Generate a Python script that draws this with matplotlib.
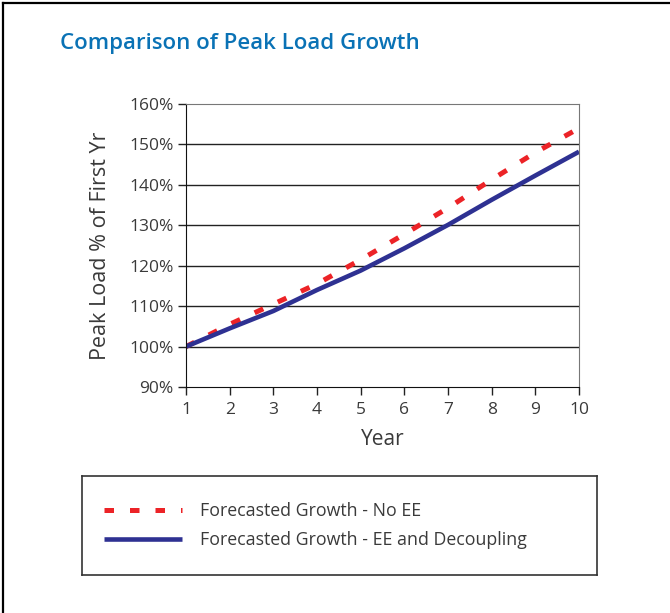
import matplotlib.pyplot as plt
from matplotlib.lines import Line2D

plt.rcParams['font.family'] = ['Open Sans', 'DejaVu Sans']

anios = [1, 2, 3, 4, 5, 6, 7, 8, 9, 10]
sin_ee = [100, 105.5, 110.5, 115.5, 121.5, 127.8, 134.3, 141.3, 148.0, 154.0]
con_ee = [100, 104.5, 108.8, 114.0, 118.8, 124.3, 130.1, 136.3, 142.3, 148.2]
etiquetas_y = ['90%', '100%', '110%', '120%', '130%', '140%', '150%', '160%']
valores_y = [90, 100, 110, 120, 130, 140, 150, 160]

rojo = '#ec2327'
azul = '#2e3192'
gris = '#3a3a3a'

fig = plt.figure(figsize=(6.7, 6.13), dpi=100)

# marco exterior (solo se ven arriba e izquierda)
fig.add_artist(Line2D([3 / 670, 1], [1 - 3 / 613, 1 - 3 / 613], color='black', lw=1.6))
fig.add_artist(Line2D([3 / 670, 3 / 670], [0, 1 - 3 / 613], color='black', lw=1.6))

fig.text(60 / 670, 1 - 43 / 613, 'Comparison of Peak Load Growth', color='#0a72b5',
         fontsize=16, fontweight='semibold', va='center', ha='left')

ax = fig.add_axes([186 / 670, 1 - 387 / 613, (579 - 186) / 670, (387 - 104) / 613])
l1, = ax.plot(anios, sin_ee, color=rojo, lw=3.6, linestyle=(0, (1.9, 3.2)),
              label='Forecasted Growth - No EE')
l2, = ax.plot(anios, con_ee, color=azul, lw=3.3, solid_capstyle='butt',
              label='Forecasted Growth - EE and Decoupling')
ax.set_xlim(1, 10)
ax.set_ylim(90, 160)
ax.set_xticks(anios)
ax.set_yticks(valores_y)
ax.set_yticklabels(etiquetas_y)
for v in valores_y[1:-1]:
    ax.axhline(v, color='#222222', lw=1.0, zorder=0)
ax.tick_params(axis='both', direction='out', length=6, width=1, colors='#222222',
               labelcolor=gris, labelsize=12.5)
ax.tick_params(axis='x', pad=5)
ax.tick_params(axis='y', pad=3)
ax.spines['left'].set_color('#111111')
ax.spines['bottom'].set_color('#111111')
ax.spines['top'].set_color('#777777')
ax.spines['right'].set_color('#777777')
ax.set_xlabel('Year', fontsize=15, color=gris, labelpad=8)
ax.set_ylabel('Peak Load % of First Yr', fontsize=15.5, color=gris, labelpad=13)

# caja de leyenda
lax = fig.add_axes([82 / 670, 1 - 575 / 613, (597 - 82) / 670, (575 - 476) / 613])
lax.set_xticks([])
lax.set_yticks([])
for s in lax.spines.values():
    s.set_color('#333333')
    s.set_linewidth(1.2)
lax.legend(handles=[l1, l2], loc='center left', frameon=False, fontsize=12.8,
           handlelength=4.4, handletextpad=1.0, labelspacing=0.6,
           borderaxespad=0.85, labelcolor=gris)

fig.savefig('out.png', dpi=100)
